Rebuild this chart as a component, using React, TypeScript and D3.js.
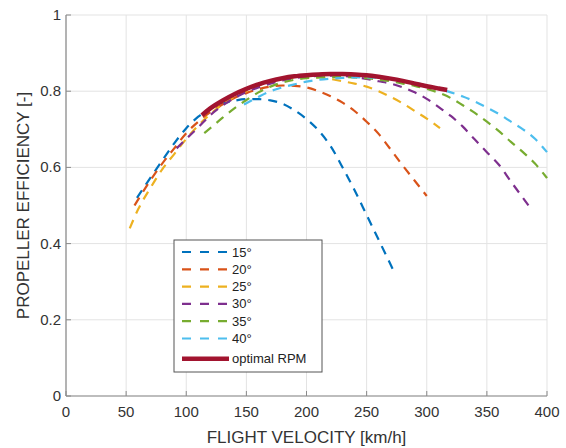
import React from "react";
import * as d3 from "d3";

const W = 566;
const H = 448;
const margin = { left: 66, right: 19, top: 15, bottom: 52 };

const xTicks = [0, 50, 100, 150, 200, 250, 300, 350, 400];
const yTicks = [0, 0.2, 0.4, 0.6, 0.8, 1];
const yTickLabels = ["0", "0.2", "0.4", "0.6", "0.8", "1"];

const seriesNames = ["15°", "20°", "25°", "30°", "35°", "40°", "optimal RPM"];
const seriesColors = ["#0072BD", "#D95319", "#EDB120", "#7E2F8E", "#77AC30", "#4DBEEE", "#A2142F"];

const s15: [number, number][] = [
  [59, 0.52], [70, 0.572], [80, 0.618], [90, 0.663], [100, 0.703], [110, 0.733], [120, 0.754],
  [130, 0.767], [140, 0.775], [150, 0.779], [160, 0.779], [170, 0.776], [180, 0.767], [190, 0.75],
  [200, 0.727], [210, 0.697], [220, 0.656], [230, 0.6], [240, 0.54], [250, 0.475], [260, 0.41], [273, 0.325],
];
const s20: [number, number][] = [
  [57, 0.5], [70, 0.565], [80, 0.61], [90, 0.65], [100, 0.69], [110, 0.72], [120, 0.745], [130, 0.765],
  [140, 0.782], [150, 0.795], [160, 0.805], [170, 0.812], [180, 0.815], [190, 0.814], [200, 0.81],
  [210, 0.8], [220, 0.787], [230, 0.77], [240, 0.748], [250, 0.72], [260, 0.688], [270, 0.647],
  [280, 0.605], [290, 0.565], [300, 0.525],
];
const s25: [number, number][] = [
  [53, 0.44], [60, 0.49], [70, 0.545], [80, 0.595], [90, 0.635], [100, 0.675], [110, 0.71], [120, 0.74],
  [130, 0.765], [140, 0.785], [150, 0.8], [160, 0.815], [170, 0.825], [180, 0.832], [190, 0.836],
  [200, 0.837], [210, 0.836], [220, 0.832], [230, 0.826], [240, 0.82], [250, 0.812], [260, 0.8],
  [270, 0.785], [280, 0.768], [290, 0.748], [300, 0.728], [311, 0.703],
];
const s30: [number, number][] = [
  [92, 0.65], [100, 0.675], [110, 0.705], [120, 0.737], [130, 0.762], [140, 0.782], [150, 0.798],
  [160, 0.81], [170, 0.82], [180, 0.828], [190, 0.834], [200, 0.838], [210, 0.84], [220, 0.841],
  [230, 0.84], [240, 0.837], [250, 0.832], [260, 0.826], [270, 0.82], [280, 0.81], [290, 0.797],
  [300, 0.78], [310, 0.758], [320, 0.735], [330, 0.707], [340, 0.673], [350, 0.64], [360, 0.607],
  [370, 0.563], [380, 0.52], [387, 0.49],
];
const s35: [number, number][] = [
  [115, 0.69], [120, 0.703], [130, 0.73], [140, 0.755], [150, 0.777], [160, 0.797], [170, 0.812],
  [180, 0.823], [190, 0.83], [200, 0.834], [210, 0.836], [220, 0.837], [230, 0.837], [240, 0.836],
  [250, 0.834], [260, 0.83], [270, 0.826], [280, 0.82], [290, 0.814], [300, 0.806], [310, 0.796],
  [320, 0.782], [330, 0.763], [340, 0.743], [350, 0.72], [360, 0.695], [370, 0.667], [380, 0.64],
  [390, 0.61], [400, 0.572],
];
const s40: [number, number][] = [
  [148, 0.765], [160, 0.785], [170, 0.8], [180, 0.81], [190, 0.818], [200, 0.825], [210, 0.83],
  [220, 0.833], [230, 0.835], [240, 0.836], [250, 0.836], [260, 0.835], [270, 0.832], [280, 0.828],
  [290, 0.822], [300, 0.815], [310, 0.806], [320, 0.797], [330, 0.786], [340, 0.773], [350, 0.757],
  [360, 0.74], [370, 0.72], [380, 0.7], [390, 0.675], [400, 0.64],
];
const sOpt: [number, number][] = [
  [113, 0.737], [120, 0.755], [130, 0.775], [140, 0.792], [150, 0.806], [160, 0.818], [170, 0.827],
  [180, 0.834], [190, 0.839], [200, 0.842], [210, 0.844], [220, 0.845], [230, 0.845], [240, 0.844],
  [250, 0.842], [260, 0.838], [270, 0.833], [280, 0.827], [290, 0.82], [300, 0.813], [310, 0.807],
  [317, 0.803],
];

const allSeries = [s15, s20, s25, s30, s35, s40, sOpt];

const FONT = "'Liberation Sans', Arial, Helvetica, sans-serif";

export default function App() {
  const x = d3.scaleLinear().domain([0, 400]).range([margin.left, W - margin.right]);
  const y = d3.scaleLinear().domain([0, 1]).range([H - margin.bottom, margin.top]);
  const line = d3
    .line<[number, number]>()
    .x((d) => x(d[0]))
    .y((d) => y(d[1]))
    .curve(d3.curveMonotoneX);

  const x0 = x(0);
  const x1 = x(400);
  const y0 = y(0);
  const y1 = y(1);

  const legX = 174;
  const legY = 240;
  const legW = 148;
  const legH = 132;
  const rowH = 17.3;

  return (
    <svg
      width={W}
      height={H}
      style={{ position: "absolute", left: 0, top: 0, background: "#fff" }}
      fontFamily={FONT}
    >
      <rect x={0} y={0} width={W} height={H} fill="#fff" />
      {xTicks.map((t) => (
        <line key={"gx" + t} x1={x(t)} x2={x(t)} y1={y0} y2={y1} stroke="#e3e3e3" strokeWidth={1} />
      ))}
      {yTicks.map((t) => (
        <line key={"gy" + t} x1={x0} x2={x1} y1={y(t)} y2={y(t)} stroke="#e3e3e3" strokeWidth={1} />
      ))}
      <line x1={x0} x2={x1} y1={y0} y2={y0} stroke="#8a8a8a" strokeWidth={1.2} />
      <line x1={x0} x2={x0} y1={y0} y2={y1} stroke="#8a8a8a" strokeWidth={1.2} />
      {xTicks.map((t) => (
        <line key={"tx" + t} x1={x(t)} x2={x(t)} y1={y0} y2={y0 - 5} stroke="#8a8a8a" strokeWidth={1} />
      ))}
      {yTicks.map((t) => (
        <line key={"ty" + t} x1={x0} x2={x0 + 5} y1={y(t)} y2={y(t)} stroke="#8a8a8a" strokeWidth={1} />
      ))}
      {xTicks.map((t) => (
        <text key={"lx" + t} x={x(t)} y={y0 + 21} fontSize={15} fill="#333" textAnchor="middle">
          {t}
        </text>
      ))}
      {yTicks.map((t, i) => (
        <text key={"ly" + t} x={x0 - 5} y={y(t) + 5} fontSize={15} fill="#333" textAnchor="end">
          {yTickLabels[i]}
        </text>
      ))}
      <text x={(x0 + x1) / 2} y={443} fontSize={17} fill="#333" textAnchor="middle">
        FLIGHT VELOCITY [km/h]
      </text>
      <text
        transform={`translate(29, ${(y0 + y1) / 2}) rotate(-90)`}
        fontSize={17}
        fill="#333"
        textAnchor="middle"
      >
        PROPELLER EFFICIENCY [-]
      </text>
      {allSeries.map((s, i) => (
        <path
          key={"s" + i}
          d={line(s) || ""}
          fill="none"
          stroke={seriesColors[i]}
          strokeWidth={i === 6 ? 4.5 : 2.2}
          strokeDasharray={i === 6 ? undefined : "9,7"}
          strokeLinecap="butt"
        />
      ))}
      <rect x={legX} y={legY} width={legW} height={legH} fill="#fff" stroke="#555" strokeWidth={1} />
      {seriesNames.map((n, i) => {
        const cy = legY + 12 + i * rowH + (i === 6 ? 3 : 0);
        return (
          <g key={"leg" + i}>
            <line
              x1={legX + 8}
              x2={legX + 55}
              y1={cy}
              y2={cy}
              stroke={seriesColors[i]}
              strokeWidth={i === 6 ? 4.5 : 2.2}
              strokeDasharray={i === 6 ? undefined : "9,9"}
            />
            <text x={legX + 58} y={cy + 4.5} fontSize={13} fill="#222">
              {n}
            </text>
          </g>
        );
      })}
    </svg>
  );
}
